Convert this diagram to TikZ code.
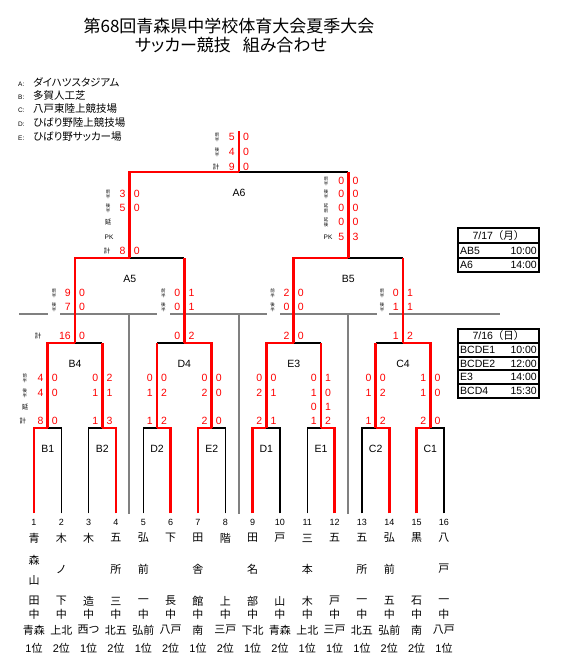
\documentclass[tikz,border=0pt]{standalone}
\usepackage{fontspec}
\setmainfont{Noto Sans CJK JP}
\newfontfamily\pfont{Noto Sans CJK JP}[RawFeature=+palt]
\newfontfamily\lfont{Liberation Sans}
\usetikzlibrary{positioning}
% two score digits either side of a match riser
\newcommand{\scorerow}[5]{%
  \node[sc, anchor=east, xshift=-4pt] (#1-#2l) at (m#1 |- 0,#3) {#4};
  \node[sc, anchor=west, xshift=4pt] (#1-#2r) at (m#1 |- 0,#3) {#5};}

\begin{document}
\begin{tikzpicture}[x=1pt, y=-1pt,
    rl/.style={red, line width=2.6pt},
    bl/.style={black, line width=1.6pt},
    gl/.style={gray, line width=2.6pt},
    gv/.style={gray, line width=1.6pt},
    tb/.style={black, line width=1.6pt},
    sc/.style={text=red, font=\lfont\fontsize{10.5}{12}\selectfont, inner sep=0},
    lab/.style={font=\fontsize{4.5}{4.8}\selectfont, align=center, inner sep=0},
    kei/.style={font=\fontsize{6.5}{7}\selectfont, inner sep=0},
    mlab/.style={font=\lfont\fontsize{10.5}{12}\selectfont, inner sep=0},
    num/.style={font=\lfont\fontsize{9}{10}\selectfont, inner sep=0, outer sep=5.5pt},
    tm/.style={font=\fontsize{11}{12}\selectfont, inner sep=0},
    cell/.style={font=\lfont\fontsize{10.5}{12}\selectfont, inner sep=0},
    ven/.style={anchor=west, font=\pfont\fontsize{10.5}{12}\selectfont, inner sep=0}
]
\fill[white] (0,0) rectangle (561,659);
\useasboundingbox (0,0) rectangle (561,659);

% title and venues
\node[font=\pfont\fontsize{17}{20}\selectfont] (title) at (229,26) {第68回青森県中学校体育大会夏季大会};
\node[font=\pfont\fontsize{17}{20}\selectfont] (subtitle) at (231,45) {サッカー競技\hspace{0.7em}組み合わせ};
\node[ven] (venA) at (18,82) {\makebox[15pt][l]{\lfont\fontsize{6.5}{7}\selectfont A:}ダイハツスタジアム};
\node[ven] (venB) at (18,96) {\makebox[15pt][l]{\lfont\fontsize{6.5}{7}\selectfont B:}多賀人工芝};
\node[ven] (venC) at (18,109) {\makebox[15pt][l]{\lfont\fontsize{6.5}{7}\selectfont C:}八戸東陸上競技場};
\node[ven] (venD) at (18,123) {\makebox[15pt][l]{\lfont\fontsize{6.5}{7}\selectfont D:}ひばり野陸上競技場};
\node[ven] (venE) at (18,137) {\makebox[15pt][l]{\lfont\fontsize{6.5}{7}\selectfont E:}ひばり野サッカー場};

% schedule tables
\draw[tb] (458,228) rectangle (539,272);
\draw[tb] (458,243) -- (539,243) (458,258) -- (539,258);
\node[cell] (day17) at (498.5,235.5) {7/17\fontspec{Noto Sans CJK JP}（月）};
\node[cell, anchor=west] (g17a) at (460,250.5) {AB5};
\node[cell, anchor=east] (h17a) at (537,250.5) {10:00};
\node[cell, anchor=west] (g17b) at (460,265) {A6};
\node[cell, anchor=east] (h17b) at (537,265) {14:00};

\draw[tb] (458,329) rectangle (539,398);
\draw[tb] (458,343) -- (539,343) (458,357) -- (539,357) (458,370) -- (539,370) (458,384) -- (539,384);
\node[cell] (day16) at (498.5,336) {7/16\fontspec{Noto Sans CJK JP}（日）};
\node[cell, anchor=west] (g16a) at (460,350) {BCDE1};
\node[cell, anchor=east] (h16a) at (537,350) {10:00};
\node[cell, anchor=west] (g16b) at (460,363.5) {BCDE2};
\node[cell, anchor=east] (h16b) at (537,363.5) {12:00};
\node[cell, anchor=west] (g16c) at (460,377) {E3};
\node[cell, anchor=east] (h16c) at (537,377) {14:00};
\node[cell, anchor=west] (g16d) at (460,391) {BCD4};
\node[cell, anchor=east] (h16d) at (537,391) {15:30};

% grid
\draw[gl] (19,314) -- (48,314) (60,314) -- (157,314) (170,314) -- (267,314)
          (280,314) -- (377,314) (389,314) -- (500,314);
\draw[gv] (129,314) -- (129,514) (239,314) -- (239,514) (348,314) -- (348,514);

% teams
\foreach \i in {1,...,16}
  \node[num] (n\i) at ({34+(\i-1)*27.33},522) {\i};
\node[tm] (a1) at (n1 |- 0,538) {青};
\node[tm] (b1) at (n1 |- 0,560) {森};
\node[tm] (e1) at (n1 |- 0,580) {山};
\node[tm] (d1) at (n1 |- 0,601) {田};
\foreach \i/\a/\b/\c in {2/木/ノ/下,4/五/所/三,5/弘/前/一,7/田/舎/館,9/田/名/部,
                         11/三/本/木,13/五/所/一,14/弘/前/五,16/八/戸/一}{
  \node[tm] (a\i) at (n\i |- 0,538) {\a};
  \node[tm] (b\i) at (n\i |- 0,569) {\b};
  \node[tm] (d\i) at (n\i |- 0,601) {\c};
}
\foreach \i/\a/\c in {3/木/造,6/下/長,8/階/上,10/戸/山,12/五/戸,15/黒/石}{
  \node[tm] (a\i) at (n\i |- 0,538) {\a};
  \node[tm] (d\i) at (n\i |- 0,601) {\c};
}
\foreach \i/\g/\k in {1/青森/1,2/上北/2,3/西つ/1,4/北五/2,5/弘前/1,6/八戸/2,7/南/1,8/三戸/2,
                      9/下北/1,10/青森/2,11/上北/1,12/三戸/1,13/北五/1,14/弘前/2,15/南/2,16/八戸/1}{
  \node[tm] (c\i) at (n\i |- 0,614) {中};
  \node[tm] (g\i) at (n\i |- 0,630) {\g};
  \node[tm] (k\i) at (n\i |- 0,648) {{\lfont\k}位};
}

% match points
\coordinate (mB1) at (47.7,428);
\coordinate (mB2) at (102.3,428);
\coordinate (mD2) at (157,428);
\coordinate (mE2) at (211.7,428);
\coordinate (mD1) at (266.3,428);
\coordinate (mE1) at (321,428);
\coordinate (mC2) at (375.7,428);
\coordinate (mC1) at (430.3,428);
\coordinate (mB4) at (75,343);
\coordinate (mD4) at (184.3,343);
\coordinate (mE3) at (293.7,343);
\coordinate (mC4) at (403,343);
\coordinate (mA5) at (129.7,258);
\coordinate (mB5) at (348.3,258);
\coordinate (mA6) at (239,172);
\coordinate (champ) at (239,131);

\foreach \m in {B1,B2,D2,E2,D1,E1,C2,C1,B4,D4,E3,C4,A5,B5,A6}
  \node[mlab, below=17pt of m\m] (l\m) {\m};

% bracket, losers first
\draw[bl] (n2.north) |- (mB1);
\draw[bl] (n3.north) |- (mB2);
\draw[bl] (n5.north) |- (mD2);
\draw[bl] (n8.north) |- (mE2);
\draw[bl] (n10.north) |- (mD1);
\draw[bl] (n11.north) |- (mE1);
\draw[bl] (n13.north) |- (mC2);
\draw[bl] (n16.north) |- (mC1);
\draw[bl] (mB2 |- mB4) -- (mB4);
\draw[bl] (mD2 |- mD4) -- (mD4);
\draw[bl] (mE1 |- mE3) -- (mE3);
\draw[bl] (mC2 |- mC4) -- (mC4);
\draw[bl] (mD4 |- mA5) -- (mA5);
\draw[bl] (mC4 |- mB5) -- (mB5);
\draw[bl] (mB5 |- mA6) -- (mA6);

\draw[rl] (n1.north) |- (mB1);
\draw[rl] (n4.north) |- (mB2);
\draw[rl] (n6.north) |- (mD2);
\draw[rl] (n7.north) |- (mE2);
\draw[rl] (n9.north) |- (mD1);
\draw[rl] (n12.north) |- (mE1);
\draw[rl] (n14.north) |- (mC2);
\draw[rl] (n15.north) |- (mC1);
\draw[rl] (mB1) |- (mB4);
\draw[rl] (mB2) -- (mB2 |- mB4);
\draw[rl] (mD2) -- (mD2 |- mD4);
\draw[rl] (mE2) |- (mD4);
\draw[rl] (mD1) |- (mE3);
\draw[rl] (mE1) -- (mE1 |- mE3);
\draw[rl] (mC2) -- (mC2 |- mC4);
\draw[rl] (mC1) |- (mC4);
\draw[rl] (mB4) |- (mA5);
\draw[rl] (mD4) -- (mD4 |- mA5);
\draw[rl] (mE3) |- (mB5);
\draw[rl] (mC4) -- (mC4 |- mB5);
\draw[rl] (mA5) |- (mA6);
\draw[rl] (mB5) -- (mB5 |- mA6);
\draw[rl] (mA6) -- (champ);

% scores
\scorerow{A6}{1}{137}{5}{0}
\scorerow{A6}{2}{152}{4}{0}
\scorerow{A6}{3}{167}{9}{0}
\scorerow{A5}{1}{194}{3}{0}
\scorerow{A5}{2}{208}{5}{0}
\scorerow{A5}{3}{251}{8}{0}
\scorerow{B5}{1}{181}{0}{0}
\scorerow{B5}{2}{194}{0}{0}
\scorerow{B5}{3}{208}{0}{0}
\scorerow{B5}{4}{222}{0}{0}
\scorerow{B5}{5}{237}{5}{3}
\foreach \m/\a/\b/\c/\d/\e/\f in {B4/9/0/7/0/16/0, D4/0/1/0/1/0/2, E3/2/0/0/0/2/0, C4/0/1/1/1/1/2}{
  \scorerow{\m}{1}{293}{\a}{\b}
  \scorerow{\m}{2}{307}{\c}{\d}
  \scorerow{\m}{3}{336}{\e}{\f}
}
\foreach \m/\a/\b/\c/\d/\e/\f in {B1/4/0/4/0/8/0, B2/0/2/1/1/1/3, D2/0/0/1/2/1/2, E2/0/0/2/0/2/0,
                                 D1/0/0/2/1/2/1, E1/0/1/1/0/1/2, C2/0/0/1/2/1/2, C1/1/0/1/0/2/0}{
  \scorerow{\m}{1}{378}{\a}{\b}
  \scorerow{\m}{2}{393}{\c}{\d}
  \scorerow{\m}{4}{421}{\e}{\f}
}
\scorerow{E1}{3}{407}{0}{1}

% half / total labels
\node[lab] (hA6-1) at (217,137) {前\\半};
\node[lab] (hA6-2) at (217,152) {後\\半};
\node[kei] (hA6-3) at (216,167) {計};
\node[lab] (hA5-1) at (108,194) {前\\半};
\node[lab] (hA5-2) at (108,208) {後\\半};
\node[kei] (hA5-3) at (108,222) {延};
\node[kei] (hA5-4) at (109,237) {\lfont PK};
\node[kei] (hA5-5) at (107,251) {計};
\node[lab] (hB5-1) at (326,181) {前\\半};
\node[lab] (hB5-2) at (326,194) {後\\半};
\node[lab] (hB5-3) at (326,208) {延\\前};
\node[lab] (hB5-4) at (326,222) {延\\後};
\node[kei] (hB5-5) at (328,237) {\lfont PK};
\foreach \m in {B4,D4,E3,C4}{
  \node[lab, xshift=-21pt] (h\m-1) at (m\m |- 0,293) {前\\半};
  \node[lab, xshift=-21pt] (h\m-2) at (m\m |- 0,307) {後\\半};
}
\node[kei] (hB4-3) at (38,336) {計};
\node[lab] (hR1-1) at (25,378) {前\\半};
\node[lab] (hR1-2) at (25,393) {後\\半};
\node[kei] (hR1-3) at (25,407) {延};
\node[kei] (hR1-4) at (23,421) {計};
\end{tikzpicture}
\end{document}
